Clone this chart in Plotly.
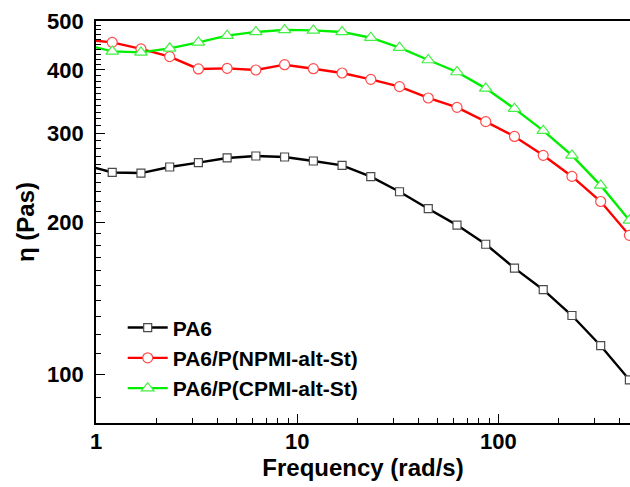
import plotly.graph_objects as go

# Frequency sweep points (rad/s); first point lies just left of the axis start
freq = [0.8665, 1.204, 1.673, 2.324, 3.228, 4.484, 6.230, 8.655, 12.03, 16.71,
        23.21, 32.25, 44.81, 62.25, 86.5, 120.2, 167.0, 232.0, 322.3, 447.7]

eta_pa6 = [259.9, 250.7, 250.0, 257.0, 262.1, 267.8, 270.2, 269.0, 264.1, 258.9,
           245.9, 229.6, 212.5, 197.2, 180.7, 162.1, 146.9, 130.6, 113.8, 97.4]
eta_npmi = [459.8, 453.6, 440.2, 425.0, 401.8, 402.9, 399.9, 409.7, 402.3, 394.5,
            383.2, 370.7, 352.0, 337.3, 316.0, 295.4, 271.0, 246.2, 219.6, 188.2]
eta_cpmi = [449.7, 435.3, 433.4, 441.4, 453.6, 467.7, 475.7, 480.1, 479.0, 475.7,
            463.3, 442.8, 418.6, 396.3, 367.8, 335.3, 303.3, 271.0, 236.3, 201.5]

series_names = ["PA6", "PA6/P(NPMI-alt-St)", "PA6/P(CPMI-alt-St)"]

x_major = [1, 10, 100]
x_major_text = ["1", "10", "100"]
x_minor = [2, 3, 4, 5, 6, 7, 8, 9, 20, 30, 40, 50, 60, 70, 80, 90, 200, 300, 400]
y_major = [100, 200, 300, 400, 500]
y_major_text = ["100", "200", "300", "400", "500"]
y_minor = [80, 90, 110, 120, 130, 140, 150, 160, 170, 180, 190,
           210, 220, 230, 240, 250, 260, 270, 280, 290,
           310, 320, 330, 340, 350, 360, 370, 380, 390,
           410, 420, 430, 440, 450, 460, 470, 480, 490]

FONT = "Liberation Sans, Arial, sans-serif"

styles = [
    dict(line="#000000", edge="#4a4a4a", symbol="square", size=8),
    dict(line="#ff0000", edge="#ff4a4a", symbol="circle", size=10),
    dict(line="#00ee00", edge="#44ee44", symbol="triangle-up", size=11),
]

fig = go.Figure()
for name, ys, st in zip(series_names, [eta_pa6, eta_npmi, eta_cpmi], styles):
    fig.add_trace(go.Scatter(
        x=freq, y=ys, name=name, mode="lines+markers",
        line=dict(color=st["line"], width=2.4),
        marker=dict(symbol=st["symbol"], size=st["size"], color="white",
                    line=dict(color=st["edge"], width=1.2)),
    ))

fig.update_layout(
    width=630, height=487,
    margin=dict(l=96, r=0, t=21, b=64, autoexpand=False),
    paper_bgcolor="white", plot_bgcolor="white",
    font=dict(family=FONT, color="black"),
    showlegend=True,
    legend=dict(
        x=0.05, y=0.162, xanchor="left", yanchor="middle",
        bgcolor="rgba(0,0,0,0)",
        font=dict(family=FONT, size=21, weight="bold", color="black"),
        itemwidth=40, tracegroupgap=0,
    ),
)

fig.update_xaxes(
    type="log", range=[0, 2.654],
    showgrid=False, zeroline=False,
    showline=True, linecolor="black", linewidth=1.6, mirror=True,
    tickmode="array", tickvals=x_major, ticktext=x_major_text,
    ticks="inside", ticklen=9, tickwidth=1.4, tickcolor="black",
    tickfont=dict(family=FONT, size=22, weight="bold", color="black"),
    ticklabelstandoff=-2,
    minor=dict(tickmode="array", tickvals=x_minor, ticks="inside",
               ticklen=5, tickwidth=1.2, tickcolor="black", showgrid=False),
    title=dict(text="Frequency (rad/s)", standoff=4,
               font=dict(family=FONT, size=24, weight="bold", color="black")),
)

fig.update_yaxes(
    type="log", range=[1.9031, 2.69897],
    showgrid=False, zeroline=False,
    showline=True, linecolor="black", linewidth=1.6,
    tickmode="array", tickvals=y_major, ticktext=y_major_text,
    ticks="inside", ticklen=9, tickwidth=1.4, tickcolor="black",
    tickfont=dict(family=FONT, size=22, weight="bold", color="black"),
    ticklabelstandoff=6,
    minor=dict(tickmode="array", tickvals=y_minor, ticks="inside",
               ticklen=5, tickwidth=1.2, tickcolor="black", showgrid=False),
    title=dict(text="η (Pas)", standoff=6,
               font=dict(family=FONT, size=24, weight="bold", color="black")),
)

# remove the default 8px body margin so the 630x487 figure fills the window exactly
fig.write_html("out.html",
               config={"displayModeBar": False},
               post_script="document.body.style.margin='0px';"
                           "document.documentElement.style.overflow='hidden';")
